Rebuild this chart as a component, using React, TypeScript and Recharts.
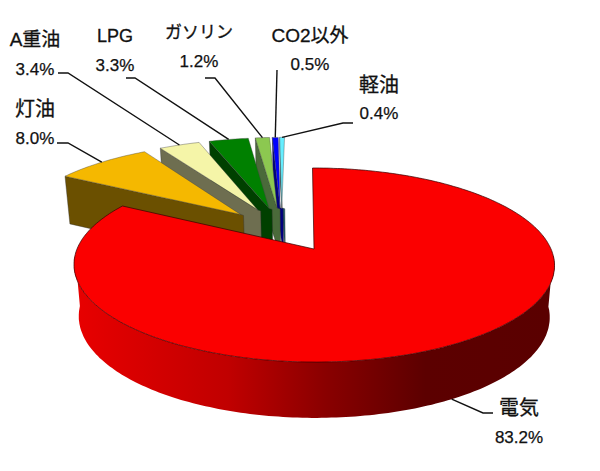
import { PieChart, Pie } from 'recharts';

// Slices are listed back to front, so the big one is painted last
const names = ['軽油', 'CO2以外', 'ガソリン', 'LPG', 'A重油', '灯油', '電気'];
const shares = [0.4, 0.5, 1.2, 3.3, 3.4, 8.0, 83.2];
const topColors = ['#66eeff', '#0000ff', '#8cc850', '#008000', '#f5f5a8', '#f5b800', '#fb0000'];
const wallColors = ['#20606a', '#000080', '#4a6a3a', '#004000', '#6e6e50', '#6b5000', 'url(#redWall)'];

const chartData = names.map((name, i) => ({ name, value: shares[i], top: topColors[i], wall: wallColors[i] }));

// Label placement: name and value centre + baselines, then the leader's elbow
const labelLayout: Record<string, any> = {
  '軽油': { x: 379, nameY: 92, valueY: 119, size: 20, line: [[353, 123], [343, 123]] },
  'CO2以外': { x: 310, nameY: 42, valueY: 70, size: 19, line: [[277, 70]] },
  'ガソリン': { x: 199, nameY: 38, valueY: 67, size: 17, line: [[205, 78], [215, 78]] },
  'LPG': { x: 115, nameY: 42, valueY: 71, size: 18, line: [[126, 78], [135, 78]] },
  'A重油': { x: 35, nameY: 46, valueY: 75, size: 19, line: [[58, 73], [68, 73]] },
  '灯油': { x: 35, nameY: 116, valueY: 144, size: 20, line: [[57, 143], [68, 143]] },
  '電気': { x: 519, nameY: 415, valueY: 443, size: 20, line: [[493, 413], [483, 413]] },
};

// Perspective of the tilted disc, with the big slice's tip as the origin
const ORIGIN_X = 314;
const ORIGIN_Y = 249;
const RADIUS_X = 237;
const RADIUS_Y = 94.4;
const TILT = 0.165;
const SHEAR = 1.5;
const DEPTH = 51;
const FLOOR_SHRINK = 0.98;
const EXPLODE = 0.26;
const DISC_CENTRE = [-0.14, -0.21];
const WALL_STEP = 3;

const RAD = Math.PI / 180;
const dir = (deg: number) => [Math.cos(deg * RAD), -Math.sin(deg * RAD)];

function project(u: number, v: number, floor = false) {
  const w = 1 - TILT * v;
  const x = (RADIUS_X * u) / w;
  const y = ORIGIN_Y + (RADIUS_Y * v) / w;
  const sx = ORIGIN_X + SHEAR * v;
  if (!floor) return [sx + x, y];
  return [sx + x * FLOOR_SHRINK, y + DEPTH / Math.sqrt(w)];
}

function tipOf(mid: number) {
  const d = dir(mid);
  return [DISC_CENTRE[0] + EXPLODE * d[0], DISC_CENTRE[1] + EXPLODE * d[1]];
}

const toPath = (pts: number[][]) =>
  'M' + pts.map((p) => `${p[0].toFixed(1)},${p[1].toFixed(1)}`).join('L') + 'Z';

function Slice3D(props: any) {
  const { startAngle, endAngle, payload } = props;
  const top = payload?.top ?? props.top;
  const wall = payload?.wall ?? props.wall;
  const mid = (startAngle + endAngle) / 2;
  const big = endAngle - startAngle > 180;
  // the big slice sits with its tip right on the origin
  const tip = big ? [0, 0] : tipOf(mid);

  const arc: number[][] = [];
  const steps = Math.max(2, Math.ceil(endAngle - startAngle));
  for (let i = 0; i <= steps; i++) {
    const d = dir(startAngle + ((endAngle - startAngle) * i) / steps);
    arc.push([tip[0] + d[0], tip[1] + d[1]]);
  }

  const topFace = [project(tip[0], tip[1]), ...arc.map((p) => project(p[0], p[1]))];

  // the big slice shows its rim, the others the cut face on their left edge
  let wallFace: number[][];
  if (big) {
    const front = arc.filter((p) => p[1] > 0.05);
    wallFace = [
      ...front.map((p) => project(p[0], p[1])),
      ...front.slice().reverse().map((p) => project(p[0], p[1], true)),
    ];
  } else {
    const edge = arc[arc.length - 1];
    const tipTop = project(tip[0], tip[1]);
    const tipFloor = project(tip[0], tip[1], true);
    wallFace = [
      project(edge[0], edge[1]),
      tipTop,
      [tipTop[0] + WALL_STEP, tipTop[1] + 1],
      [tipFloor[0] + WALL_STEP, tipFloor[1]],
      project(edge[0], edge[1], true),
    ];
  }

  return (
    <g>
      {big && (
        <defs>
          <linearGradient id="redWall" gradientUnits="userSpaceOnUse" x1={75} y1={0} x2={555} y2={0}>
            <stop offset="0%" stopColor="#e80000" />
            <stop offset="32%" stopColor="#c00000" />
            <stop offset="52%" stopColor="#8a0000" />
            <stop offset="73%" stopColor="#5c0000" />
            <stop offset="100%" stopColor="#5a0000" />
          </linearGradient>
        </defs>
      )}
      <path d={toPath(wallFace)} fill={wall} stroke={big ? 'none' : '#333'} strokeWidth={0.4} />
      <path d={toPath(topFace)} fill={top} stroke={big ? '#300' : '#444'} strokeWidth={big ? 0.7 : 0.4} />
    </g>
  );
}

function SliceLabel(props: any) {
  const { startAngle, endAngle, name, value } = props;
  const layout = labelLayout[name];
  const mid = (startAngle + endAngle) / 2;
  const big = endAngle - startAngle > 180;
  const tip = big ? [0, 0] : tipOf(mid);
  const d = dir(mid);
  const end = project(tip[0] + d[0], tip[1] + d[1], big);
  const pts = [...layout.line, end].map((p: number[]) => p.join(',')).join(' ');
  return (
    <g>
      <polyline points={pts} fill="none" stroke="#111" strokeWidth={1.4} />
      <text x={layout.x} y={layout.nameY} textAnchor="middle" fontSize={layout.size} fill="#111" stroke="#111" strokeWidth={0.3}>
        {name}
      </text>
      <text x={layout.x} y={layout.valueY} textAnchor="middle" fontSize={17} fill="#111" stroke="#111" strokeWidth={0.25}>
        {value.toFixed(1)}%
      </text>
    </g>
  );
}

export default function App() {
  return (
    <div
      style={{
        position: 'absolute',
        left: 0,
        top: 0,
        width: 600,
        height: 471,
        background: '#fff',
        fontFamily: '"Liberation Sans", "Noto Sans CJK JP", sans-serif',
      }}
    >
      <PieChart width={600} height={471} margin={{ top: 0, right: 0, bottom: 0, left: 0 }}>
        <Pie
          data={chartData}
          dataKey="value"
          nameKey="name"
          cx={ORIGIN_X}
          cy={ORIGIN_Y}
          outerRadius={RADIUS_X}
          startAngle={90}
          endAngle={450}
          stroke="none"
          shape={Slice3D}
          label={SliceLabel}
          labelLine={false}
          isAnimationActive={false}
        />
      </PieChart>
    </div>
  );
}
